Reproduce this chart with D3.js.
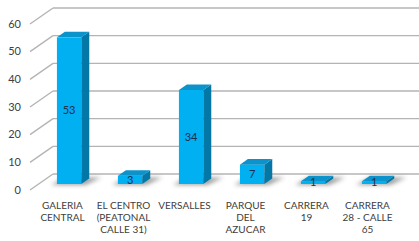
<!DOCTYPE html>
<html><head><meta charset="utf-8">
<script src="https://cdn.jsdelivr.net/npm/d3@7"></script>
<style>html,body{margin:0;padding:0;background:#fff;}svg{display:block;}</style>
</head><body>
<svg id="c" width="419" height="241"></svg>
<script>
const categories = ["GALERIA CENTRAL", "EL CENTRO (PEATONAL CALLE 31)", "VERSALLES", "PARQUE DEL AZUCAR", "CARRERA 19", "CARRERA 28 - CALLE 65"];
const categoryLines = [["GALERIA","CENTRAL"],["EL CENTRO","(PEATONAL","CALLE 31)"],["VERSALLES"],["PARQUE","DEL","AZUCAR"],["CARRERA","19"],["CARRERA","28 - CALLE","65"]];
const values = [53, 3, 34, 7, 1, 1];
const yTicks = [0, 10, 20, 30, 40, 50, 60];

const svg = d3.select("#c");
const DX = 23, DY = -16; // depth projection (z from 0 front to 1 back)
const x = d3.scaleBand().domain(categories).range([30, 396]);
const y = d3.scaleLinear().domain([0, 60]).range([190, 24]);
const zF = 0.375, zB = 0.72;
const font = "Lato, 'Open Sans', sans-serif";

const defs = svg.append("defs");
defs.append("filter").attr("id","blur").attr("x","-50%").attr("y","-100%").attr("width","200%").attr("height","300%")
  .append("feGaussianBlur").attr("stdDeviation", 2.2);

// gridlines: back wall + left wall diagonals
const g = svg.append("g");
yTicks.forEach(v => {
  g.append("line").attr("x1", 30 + DX).attr("x2", 396 + DX)
    .attr("y1", y(v) + DY).attr("y2", y(v) + DY)
    .attr("stroke", "#b4b4b4").attr("stroke-width", 1.4);
  g.append("line").attr("x1", 30).attr("x2", 30 + DX)
    .attr("y1", y(v)).attr("y2", y(v) + DY)
    .attr("stroke", "#b4b4b4").attr("stroke-width", 1.4);
  svg.append("text").attr("x", 21).attr("y", y(v) + 1)
    .attr("text-anchor", "end").attr("dominant-baseline", "middle")
    .attr("font-family", font).attr("font-size", 11).attr("fill", "#404040").text(v);
});

// bars
const bw = x.bandwidth() * 0.4;
const bars = svg.append("g");
categories.forEach((c, i) => {
  const v = values[i];
  const x0 = x(c) + x.bandwidth() * 0.3 + zF * DX;
  const x1 = x0 + bw;
  const yb = y(0) + zF * DY;
  const yt = y(v) + zF * DY;
  const ddx = (zB - zF) * DX, ddy = (zB - zF) * DY;
  // shadow
  bars.append("polygon")
    .attr("points", [[x0 - 6, yb + 1], [x1 + 4, yb + 1], [x1 + ddx + 12, yb + ddy - 1], [x0 + ddx, yb + ddy - 1]].map(p => p.join(",")).join(" "))
    .attr("fill", "#555").attr("opacity", 0.55).attr("filter", "url(#blur)");
  // front
  bars.append("rect").attr("x", x0).attr("y", yt).attr("width", bw).attr("height", Math.max(0, yb - yt))
    .attr("fill", "#00b0f0");
  // side
  bars.append("polygon")
    .attr("points", [[x1, yt], [x1 + ddx, yt + ddy], [x1 + ddx, yb + ddy], [x1, yb]].map(p => p.join(",")).join(" "))
    .attr("fill", "#0377a6");
  // top
  bars.append("polygon")
    .attr("points", [[x0, yt], [x1, yt], [x1 + ddx, yt + ddy], [x0 + ddx, yt + ddy]].map(p => p.join(",")).join(" "))
    .attr("fill", "#0d93cc");
  // value label
  svg.append("text").attr("x", x0 + bw / 2).attr("y", (yt + yb) / 2 + 1)
    .attr("text-anchor", "middle").attr("dominant-baseline", "middle")
    .attr("font-family", font).attr("font-size", 11).attr("fill", "#1f2f4f").text(v);
});

// category labels
categories.forEach((c, i) => {
  const t = svg.append("text").attr("text-anchor", "middle")
    .attr("font-family", font).attr("font-size", 10).attr("fill", "#404040");
  categoryLines[i].forEach((ln, j) => {
    t.append("tspan").attr("x", x(c) + x.bandwidth() / 2 + 2).attr("y", 209 + j * 12).text(ln);
  });
});
</script>
</body></html>
